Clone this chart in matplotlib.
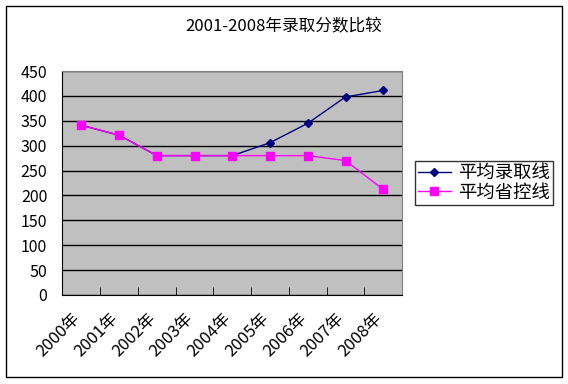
import matplotlib.pyplot as plt
import numpy as np
from matplotlib.patches import Rectangle
from matplotlib.transforms import ScaledTranslation

plt.rcParams['font.family'] = ['Noto Sans CJK SC', 'DejaVu Sans']

years = ["2000年", "2001年", "2002年", "2003年", "2004年", "2005年", "2006年", "2007年", "2008年"]
admit = [341, 321, 280, 280, 280, 306, 345, 398, 411]
control = [341, 321, 280, 280, 280, 280, 280, 270, 212]

fig = plt.figure(figsize=(5.68, 3.84), dpi=100)
fig.patch.set_facecolor("white")
# outer chart border
fig.patches.append(Rectangle((6 / 568, 7 / 384), 556 / 568, 371 / 384, transform=fig.transFigure,
                             fill=False, edgecolor="black", linewidth=1))

ax = fig.add_axes([0.110, 0.232, 0.598, 0.583])
ax.set_facecolor("#C0C0C0")
x = np.arange(len(years))

ax.yaxis.grid(True, color="black", linewidth=1)
ax.set_axisbelow(True)
ax.plot(x, admit, color="#000080", marker="D", markersize=4.5, linewidth=1, label="平均录取线")
ax.plot(x, control, color="#FF00FF", marker="s", markersize=5.5, linewidth=1, label="平均省控线")

ax.set_xlim(-0.5, len(years) - 0.5)
ax.set_ylim(0, 450)
ax.set_yticks(np.arange(0, 451, 50))
ax.set_xticks(x)
ax.set_xticklabels(years, rotation=45, ha="right", va="top", rotation_mode="anchor", fontsize=12)
ax.tick_params(axis="x", length=0, pad=11)
shift = ScaledTranslation(-7 / 72, 0, fig.dpi_scale_trans)
for lab in ax.get_xticklabels():
    lab.set_transform(lab.get_transform() + shift)
ax.set_xticks(np.arange(-0.5, len(years), 1), minor=True)
ax.tick_params(axis="x", which="minor", direction="in", length=6, color="black")
ax.tick_params(axis="y", length=0, labelsize=11.5, pad=11)
for s in ["top", "right"]:
    ax.spines[s].set_color("#808080")
for s in ["left", "bottom"]:
    ax.spines[s].set_color("black")

fig.text(0.5, 1 - 27 / 384, "2001-2008年录取分数比较", ha="center", va="center", fontsize=12)

leg = fig.legend(loc="center left", bbox_to_anchor=(415 / 568, 1 - 183 / 384), fontsize=13.2,
                 frameon=True, fancybox=False, edgecolor="black", handlelength=1.8,
                 borderpad=0.15, labelspacing=0.1, handletextpad=0.4, borderaxespad=0)
leg.get_frame().set_linewidth(1)

fig.savefig("out.png", dpi=100)
